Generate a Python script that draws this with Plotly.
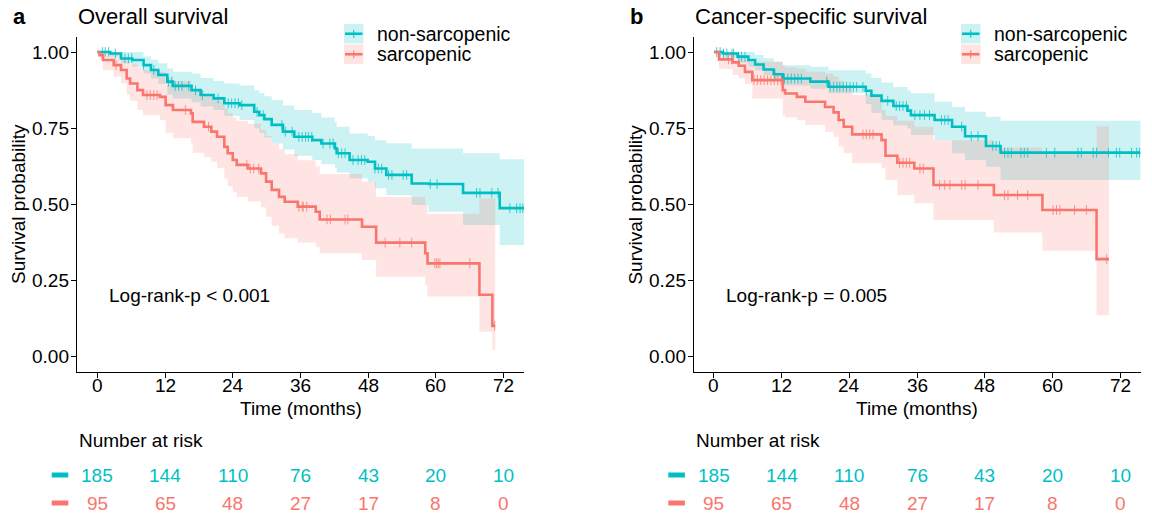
import bisect
import plotly.graph_objects as go

# ---------------- data ----------------
# Panel a: overall survival
os_ns_time = [0, 2.3, 4.2, 6.2, 8.2, 9.5, 10.8, 12.4, 13.4, 16.7, 18.3, 20.6, 22.5, 25.2, 27.8, 28.7,
              29.6, 30.9, 32.9, 34.9, 38.1, 39.7, 42.1, 42.4, 44.7, 47.9, 49.2, 51.2, 55.7, 58.7, 64.8, 71.3]
os_ns_surv = [1, .995, .979, .974, .957, .941, .925, .903, .889, .875, .859, .848, .832, .826, .804, .793,
              .78, .761, .739, .722, .711, .700, .684, .668, .646, .640, .618, .597, .569, .567, .538, .488]
os_ns_upper = [1, 1, 1, 1, .985, .975, .963, .946, .935, .93, .915, .905, .897, .89, .875, .865,
               .855, .843, .825, .81, .80, .785, .77, .755, .733, .725, .711, .701, .684, .684, .668, .648]
os_ns_lower = [1, .985, .963, .952, .93, .913, .895, .86, .848, .835, .821, .81, .79, .777, .75, .735,
               .72, .70, .68, .66, .646, .632, .62, .605, .586, .575, .553, .53, .498, .476, .433, .367]
os_ns_end = 75.6
os_ns_censor = [0.9, 1.4, 2.0, 3.2, 4.9, 5.5, 6.1, 8.2, 10.0, 12.6, 13.2, 13.8, 14.4, 15.0, 16.2, 17.4,
                18.6, 21.4, 23.2, 23.8, 24.4, 25.0, 25.6, 28.3, 29.4, 32.7, 33.3, 34.5, 35.7, 36.3, 36.9,
                37.4, 38.0, 40.0, 41.2, 41.8, 42.7, 43.3, 43.9, 45.3, 46.2, 46.8, 47.4, 49.2, 49.8, 50.4,
                51.6, 52.2, 54.2, 54.8, 59.0, 60.2, 67.2, 67.8, 69.9, 71.0, 73.1, 74.3, 74.9, 75.4]

os_s_time = [0, 0.4, 1.0, 2.9, 4.2, 5.2, 5.8, 7.1, 8.1, 11.1, 12.1, 13.4, 16.6, 16.9, 18.9, 20.2, 21.2, 22.5,
             23.1, 24.0, 24.7, 26.7, 29.0, 29.9, 30.9, 32.2, 33.2, 35.5, 38.7, 39.4, 46.9, 49.4, 58.1, 58.5,
             67.7, 70.0]
os_s_surv = [1, .990, .974, .957, .941, .913, .897, .875, .859, .853, .826, .810, .799, .771, .755, .739, .722,
             .689, .668, .646, .630, .618, .602, .575, .548, .525, .509, .493, .476, .451, .427, .375, .34,
             .307, .204, .102]
os_s_upper = [1, 1, 1, .99, .98, .97, .96, .95, .94, .935, .915, .905, .895, .875, .86, .85, .84, .815,
              .80, .785, .775, .765, .745, .725, .70, .68, .665, .645, .625, .60, .575, .525, .50, .47, .52, .52]
os_s_lower = [1, .975, .94, .92, .897, .86, .84, .81, .793, .777, .735, .717, .70, .67, .655, .64, .62, .585,
              .56, .54, .525, .51, .49, .46, .43, .405, .389, .375, .36, .34, .318, .263, .235, .198, .083, .023]
os_s_end = 70.5
os_s_censor = [3.3, 8.8, 9.4, 10.0, 10.6, 15.6, 19.7, 26.5, 27.1, 27.7, 28.6, 35.7, 36.3, 36.5, 37.1, 40.7,
               41.3, 43.9, 44.4, 51.0, 53.6, 55.7, 59.8, 60.1, 60.4, 60.7, 66.0, 70.4]

# Panel b: cancer-specific survival
css_ns_time = [0, 1.6, 4.2, 6.1, 7.3, 8.8, 10.6, 12.2, 17.1, 20.3, 26.9, 27.9, 29.7, 31.8, 34.3, 34.9,
               39.1, 42.2, 44.5, 48.2, 50.8]
css_ns_surv = [1, .995, .985, .974, .959, .943, .927, .913, .903, .886, .873, .857, .840, .823, .808, .793,
               .777, .755, .724, .692, .670]
css_ns_upper = [1, 1, 1, 1, .99, .98, .968, .957, .952, .94, .93, .915, .90, .885, .875, .865,
                .837, .82, .804, .788, .775]
css_ns_lower = [1, .985, .965, .952, .94, .925, .905, .89, .88, .865, .83, .80, .777, .76, .75, .728,
                .711, .668, .646, .624, .58]
css_ns_end = 75.6
css_ns_censor = [0.5, 1.1, 1.7, 2.3, 3.2, 3.5, 4.4, 4.9, 5.5, 10.8, 12.5, 13.1, 13.7, 14.3, 14.9, 15.5,
                 20.0, 20.6, 21.2, 21.8, 22.3, 22.9, 23.5, 24.1, 24.7, 25.3, 26.4, 27.0, 30.8, 32.3, 32.9,
                 33.5, 34.1, 35.6, 36.5, 37.3, 38.2, 40.3, 40.9, 41.5, 43.9, 45.6, 46.8, 49.4, 50.0, 50.6,
                 51.5, 52.1, 52.7, 54.4, 55.0, 55.6, 58.9, 60.4, 64.5, 65.1, 67.2, 67.8, 69.9, 71.3, 71.9,
                 74.0, 74.9, 75.4]

css_s_time = [0, 0.9, 3.3, 4.4, 5.5, 6.8, 12.2, 12.6, 14.7, 16.2, 19.7, 21.2, 22.1, 23.0, 24.5, 29.7,
              30.4, 32.5, 35.5, 38.9, 49.6, 58.2, 67.8]
css_s_surv = [1, .976, .966, .955, .935, .908, .875, .864, .853, .837, .820, .802, .777, .755, .730, .711,
              .660, .637, .618, .564, .531, .482, .321]
css_s_upper = [1, 1, .99, .985, .975, .968, .957, .95, .945, .935, .93, .92, .905, .89, .86, .81,
               .79, .775, .755, .711, .687, .665, .757]
css_s_lower = [1, .945, .925, .913, .895, .848, .793, .785, .777, .761, .739, .722, .69, .668, .635, .62,
               .58, .531, .504, .449, .408, .348, .137]
css_s_end = 70.0
css_s_censor = [2.6, 3.2, 7.1, 7.7, 8.3, 8.9, 9.5, 10.1, 10.7, 11.3, 11.9, 26.4, 27.0, 27.6, 28.2, 32.9,
                33.5, 34.1, 34.7, 36.5, 37.1, 40.0, 40.9, 41.8, 43.9, 44.5, 46.8, 51.5, 52.1, 53.8, 55.6,
                60.1, 60.7, 61.3, 63.9, 66.0, 69.6]

risk_times = [0, 12, 24, 36, 48, 60, 72]
risk_nonsarc = [185, 144, 110, 76, 43, 20, 10]
risk_sarc = [95, 65, 48, 27, 17, 8, 0]
y_ticks = [0, 0.25, 0.5, 0.75, 1.0]

group_names = ["non-sarcopenic", "sarcopenic"]
panel_titles = ["Overall survival", "Cancer-specific survival"]
panel_letters = ["a", "b"]
pvalue_texts = ["Log-rank-p < 0.001", "Log-rank-p = 0.005"]

# ---------------- styling ----------------
W, H = 1152, 514
TEAL = "#00BFC4"
RED = "#F8766D"
TEAL_FILL = "rgba(0,191,196,0.2)"
RED_FILL = "rgba(248,118,109,0.2)"
TEAL_TICK = "rgba(0,191,196,0.75)"
RED_TICK = "rgba(248,118,109,0.75)"
FONT = "Liberation Sans, Arial, sans-serif"


def px(x):
    return x / W


def py(y):
    return 1 - y / H


def step_at(times, vals, t):
    i = bisect.bisect_right(times, t) - 1
    return vals[max(i, 0)]


fig = go.Figure()

panels = [
    dict(xa="x", ya="y", groups=[
        (os_ns_time, os_ns_surv, os_ns_upper, os_ns_lower, os_ns_end, os_ns_censor, TEAL, TEAL_FILL, TEAL_TICK),
        (os_s_time, os_s_surv, os_s_upper, os_s_lower, os_s_end, os_s_censor, RED, RED_FILL, RED_TICK)]),
    dict(xa="x2", ya="y2", groups=[
        (css_ns_time, css_ns_surv, css_ns_upper, css_ns_lower, css_ns_end, css_ns_censor, TEAL, TEAL_FILL, TEAL_TICK),
        (css_s_time, css_s_surv, css_s_upper, css_s_lower, css_s_end, css_s_censor, RED, RED_FILL, RED_TICK)]),
]

for p in panels:
    # confidence ribbons first
    for (t, s, up, lo, end, cens, col, fcol, tcol) in p["groups"]:
        xs = list(t) + [end]
        fig.add_trace(go.Scatter(x=xs, y=list(lo) + [lo[-1]], mode="lines", line=dict(width=0, shape="hv"),
                                 xaxis=p["xa"], yaxis=p["ya"], showlegend=False, hoverinfo="skip"))
        fig.add_trace(go.Scatter(x=xs, y=list(up) + [up[-1]], mode="lines", line=dict(width=0, shape="hv"),
                                 fill="tonexty", fillcolor=fcol,
                                 xaxis=p["xa"], yaxis=p["ya"], showlegend=False, hoverinfo="skip"))
    # curves
    for (t, s, up, lo, end, cens, col, fcol, tcol) in p["groups"]:
        xs = list(t) + [end]
        fig.add_trace(go.Scatter(x=xs, y=list(s) + [s[-1]], mode="lines", line=dict(width=2.6, color=col, shape="hv"),
                                 xaxis=p["xa"], yaxis=p["ya"], showlegend=False))
        fig.add_trace(go.Scatter(x=cens, y=[step_at(t, s, c) for c in cens], mode="markers",
                                 marker=dict(symbol="line-ns", size=7, line=dict(width=1, color=tcol)),
                                 xaxis=p["xa"], yaxis=p["ya"], showlegend=False))

ydom = [py(372.2), py(36.8)]
axis_common = dict(showgrid=False, zeroline=False, showline=True, linecolor="black", linewidth=1.1,
                   ticks="outside", ticklen=5, tickwidth=1.1, tickcolor="black", showticklabels=False)
fig.update_layout(
    xaxis=dict(domain=[px(77), px(524)], range=[-3.6, 75.6], tickvals=risk_times, anchor="y", **axis_common),
    yaxis=dict(domain=ydom, range=[-0.05, 1.05], tickvals=y_ticks, anchor="x", **axis_common),
    xaxis2=dict(domain=[px(693.6), px(1140.6)], range=[-3.6, 75.6], tickvals=risk_times, anchor="y2", **axis_common),
    yaxis2=dict(domain=ydom, range=[-0.05, 1.05], tickvals=y_ticks, anchor="x2", **axis_common),
)

annotations = []
shapes = []
offsets = [0, 616.6]
legend_x = [344, 961]
xrefs = ["x", "x2"]
yrefs = ["y", "y2"]
ylab_right = [71, 687.6]
for k in range(2):
    off = offsets[k]
    annotations.append(dict(text="<b>%s</b>" % panel_letters[k], x=px(11 + off), y=py(17), xref="paper", yref="paper",
                            xanchor="left", yanchor="middle", showarrow=False,
                            font=dict(family=FONT, size=22, color="black")))
    annotations.append(dict(text=panel_titles[k], x=px(76 + off), y=py(17), xref="paper", yref="paper",
                            xanchor="left", yanchor="middle", showarrow=False,
                            font=dict(family=FONT, size=22, color="black")))
    annotations.append(dict(text="Survival probability", x=px(18.5 + off), y=py(204.5), xref="paper", yref="paper",
                            xanchor="center", yanchor="middle", textangle=-90, showarrow=False,
                            font=dict(family=FONT, size=19, color="black")))
    annotations.append(dict(text="Time (months)", x=px(300.5 + off), y=py(408), xref="paper", yref="paper",
                            xanchor="center", yanchor="middle", showarrow=False,
                            font=dict(family=FONT, size=19, color="black")))
    annotations.append(dict(text=pvalue_texts[k], x=1.7, y=0.2, xref=xrefs[k], yref=yrefs[k],
                            xanchor="left", yanchor="middle", showarrow=False,
                            font=dict(family=FONT, size=19, color="black")))
    annotations.append(dict(text="Number at risk", x=px(77 + off), y=py(440), xref="paper", yref="paper",
                            xanchor="left", yanchor="middle", showarrow=False,
                            font=dict(family=FONT, size=19, color="black")))
    # axis tick labels
    for t in risk_times:
        annotations.append(dict(text=str(t), x=t, y=py(385.5), xref=xrefs[k], yref="paper",
                                xanchor="center", yanchor="middle", showarrow=False,
                                font=dict(family=FONT, size=19, color="black")))
    for v in y_ticks:
        annotations.append(dict(text="%.2f" % v, x=px(ylab_right[k]), y=v, xref="paper", yref=yrefs[k],
                                xanchor="right", yanchor="middle", showarrow=False,
                                font=dict(family=FONT, size=19, color="black")))
    for t, n1, n2 in zip(risk_times, risk_nonsarc, risk_sarc):
        annotations.append(dict(text=str(n1), x=t, y=py(475.5), xref=xrefs[k], yref="paper",
                                xanchor="center", yanchor="middle", showarrow=False,
                                font=dict(family=FONT, size=19, color=TEAL)))
        annotations.append(dict(text=str(n2), x=t, y=py(503.5), xref=xrefs[k], yref="paper",
                                xanchor="center", yanchor="middle", showarrow=False,
                                font=dict(family=FONT, size=19, color=RED)))
    # risk table colour keys
    shapes.append(dict(type="line", xref="paper", yref="paper", x0=px(51.7 + off), x1=px(68.3 + off),
                       y0=py(475), y1=py(475), line=dict(color=TEAL, width=5)))
    shapes.append(dict(type="line", xref="paper", yref="paper", x0=px(51.7 + off), x1=px(68.3 + off),
                       y0=py(503), y1=py(503), line=dict(color=RED, width=5)))
    # legend
    lx = legend_x[k]
    for j, (col, fcol, y0, y1) in enumerate([(TEAL, TEAL_FILL, 24, 43.5), (RED, RED_FILL, 44.5, 64)]):
        yc = (y0 + y1) / 2
        shapes.append(dict(type="rect", xref="paper", yref="paper", x0=px(lx), x1=px(lx + 19.5),
                           y0=py(y1), y1=py(y0), fillcolor=fcol, line=dict(width=0)))
        shapes.append(dict(type="line", xref="paper", yref="paper", x0=px(lx + 1), x1=px(lx + 18.5),
                           y0=py(yc), y1=py(yc), line=dict(color=col, width=2.6)))
        shapes.append(dict(type="line", xref="paper", yref="paper", x0=px(lx + 9.75), x1=px(lx + 9.75),
                           y0=py(yc - 4), y1=py(yc + 4), line=dict(color=col, width=1)))
        annotations.append(dict(text=group_names[j], x=px(lx + 31), y=py(yc), xref="paper", yref="paper",
                                xanchor="left", yanchor="middle", showarrow=False,
                                font=dict(family=FONT, size=19.5, color="black")))

fig.update_layout(width=W, height=H, margin=dict(l=0, r=0, t=0, b=0),
                  paper_bgcolor="white", plot_bgcolor="white", showlegend=False,
                  annotations=annotations, shapes=shapes)

fig.write_html("out.html", config={"displayModeBar": False},
               post_script="document.body.style.margin='0';document.body.style.padding='0';"
                           "document.body.style.overflow='hidden';")
